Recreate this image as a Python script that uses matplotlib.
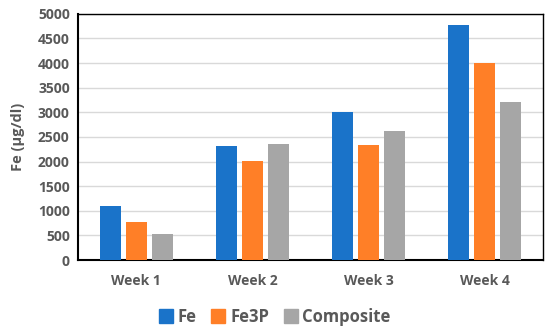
import numpy as np
import matplotlib.pyplot as plt
from matplotlib.lines import Line2D

weeks = ["Week 1", "Week 2", "Week 3", "Week 4"]
series_names = ["Fe", "Fe3P", "Composite"]
fe = [1100, 2310, 3010, 4780]
fe3p = [780, 2020, 2340, 4010]
composite = [520, 2350, 2630, 3220]
colors = ["#1a73c9", "#ff7f27", "#a6a6a6"]
text_col = "#595959"

plt.rcParams['font.family'] = ['Open Sans', 'DejaVu Sans']

fig = plt.figure(figsize=(5.5, 3.3), dpi=100)
ax = fig.add_axes([0.142, 0.212, 0.845, 0.746])

x = np.arange(len(weeks))
w = 0.178
step = 0.224
for i, (vals, c) in enumerate(zip([fe, fe3p, composite], colors)):
    ax.bar(x + (i - 1) * step, vals, w, color=c, zorder=3)

ax.set_xlim(-0.5, 3.5)
ax.set_ylim(0, 5000)
ax.set_yticks(range(0, 5001, 500))
ax.grid(axis='y', color='#d9d9d9', linewidth=1, zorder=0)
ax.set_xticks(x)
ax.set_xticklabels(weeks)
ax.tick_params(length=0, colors=text_col, labelsize=10, pad=10)
ax.tick_params(axis='y', pad=6)
for lab in ax.get_xticklabels() + ax.get_yticklabels():
    lab.set_fontweight('bold')
for s in ax.spines.values():
    s.set_color('black')
    s.set_linewidth(1.0)
ax.spines['bottom'].set_linewidth(1.5)
ax.spines['left'].set_linewidth(1.5)

ax.set_ylabel("Fe (µg/dl)", color=text_col, fontsize=10.5, fontweight='bold', labelpad=9)

handles = [Line2D([], [], marker='s', linestyle='', markersize=10, color=c) for c in colors]
fig.legend(handles, series_names, loc='center', bbox_to_anchor=(0.5, 0.04), ncol=3,
           frameon=False, handlelength=0.8, handletextpad=0.3, columnspacing=0.9,
           prop={'size': 12, 'weight': 'bold'}, labelcolor=text_col)

fig.savefig("out.png", dpi=100)
